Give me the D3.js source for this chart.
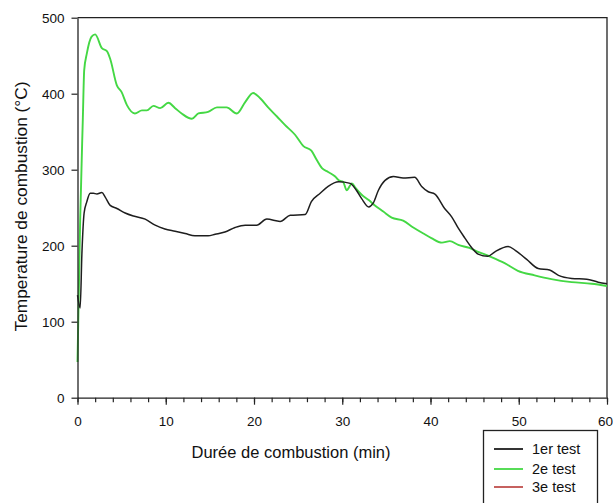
<!DOCTYPE html>
<html>
<head>
<meta charset="utf-8">
<script src="https://cdn.jsdelivr.net/npm/d3@7"></script>
<style>
  html, body { margin: 0; padding: 0; background: #fff; }
  svg { display: block; font-family: "Liberation Sans", Arial, sans-serif; }
</style>
</head>
<body>
<svg id="chart" width="613" height="503"></svg>
<script>
// Combustion temperature over time for successive tests
const testOneTime = [0, 0.3, 0.5, 0.75, 1.06, 1.44, 1.8, 2.2, 2.76, 3.14, 3.7, 4.46, 5.4, 6.34, 7.67, 8.8, 9.9, 11.06, 12.2, 13.3, 14.8, 15.6, 16.7, 17.86, 19.0, 20.3, 21.45, 22.96, 24.1, 25.8, 26.5, 27.5, 28.4, 29.6, 30.9, 31.6, 32.2, 33.0, 33.5, 34.1, 34.85, 35.8, 36.9, 38.2, 39.0, 39.75, 40.5, 41.6, 42.4, 43.15, 43.9, 44.7, 45.4, 46.5, 47.3, 48.8, 49.6, 50.9, 52.2, 53.5, 54.5, 56.0, 57.7, 59.0, 60];
const testOneTemp = [135, 118, 190, 243, 258, 269, 269, 268, 270, 264, 253, 249, 243, 239, 235, 227, 222, 219, 216, 213, 213, 215, 218, 224, 227, 227, 235, 232, 240, 241, 258, 269, 278, 284, 282, 273, 262, 251, 256, 273, 286, 291, 289, 290, 278, 271, 268, 249, 238, 223, 210, 197, 189, 186, 192, 199, 194, 182, 170, 168, 161, 157, 156, 152, 150];

const testTwoTime = [0, 0.3, 0.6, 0.76, 1.06, 1.6, 2.0, 2.76, 3.33, 3.7, 4.46, 5.0, 5.6, 6.5, 7.3, 7.86, 8.6, 9.37, 10.3, 11.06, 11.8, 12.96, 13.7, 14.8, 15.8, 16.9, 18.05, 19.0, 19.9, 20.7, 21.6, 22.6, 23.5, 24.65, 25.6, 26.5, 27.1, 27.7, 28.4, 29.2, 29.6, 30.1, 30.5, 31.1, 31.5, 32.2, 33.0, 33.7, 34.65, 35.6, 36.9, 38.05, 39.2, 40.1, 41.3, 42.2, 43.15, 44.4, 45.4, 46.9, 48.4, 49.9, 51.8, 53.7, 56.0, 58.25, 60];
const testTwoTemp = [47, 233, 365, 431, 453, 475, 478, 460, 456, 446, 411, 402, 385, 374, 378, 378, 384, 381, 388, 381, 374, 367, 374, 376, 382, 382, 374, 389, 401, 394, 382, 370, 359, 346, 331, 325, 313, 302, 297, 291, 286, 284, 273, 282, 276, 267, 260, 253, 245, 237, 233, 224, 216, 210, 204, 206, 201, 197, 192, 185, 177, 167, 161, 156, 152, 150, 147];

// Third test: listed in the legend, no recorded curve
const testThreeTime = [];
const testThreeTemp = [];

const seriesNames = ["1er test", "2e test", "3e test"];
const seriesColors = ["#1e1e1e", "#44d844", "#c0504d"];

const xTicks = [0, 10, 20, 30, 40, 50, 60];
const xMinorTicks = d3.range(0, 61, 2);
const yTicks = [0, 100, 200, 300, 400, 500];

const xTitle = "Durée de combustion (min)";
const yTitle = "Temperature de combustion (°C)";

const series = [
  { name: seriesNames[0], color: seriesColors[0], pts: d3.zip(testOneTime, testOneTemp) },
  { name: seriesNames[1], color: seriesColors[1], pts: d3.zip(testTwoTime, testTwoTemp) },
  { name: seriesNames[2], color: seriesColors[2], pts: d3.zip(testThreeTime, testThreeTemp) }
];

const plot = { left: 77.5, right: 607, top: 17.7, bottom: 397.7 };

const svg = d3.select("#chart");
const x = d3.scaleLinear().domain([0, 60]).range([plot.left, plot.right]);
const y = d3.scaleLinear().domain([0, 500]).range([plot.bottom, plot.top]);

// Frame (top and right edges)
svg.append("path")
  .attr("d", `M${plot.left},${plot.top}H${plot.right}V${plot.bottom}`)
  .attr("fill", "none").attr("stroke", "#222").attr("stroke-width", 1.3);

// Curves
const line = d3.line().x(d => x(d[0])).y(d => y(d[1])).curve(d3.curveMonotoneX);
const curves = svg.append("g").attr("fill", "none").attr("stroke-linejoin", "round");
[series[1], series[0], series[2]].forEach(s => {
  if (!s.pts.length) return;
  curves.append("path").attr("d", line(s.pts))
    .attr("stroke", s.color).attr("stroke-width", s === series[1] ? 1.9 : 1.5);
});

// Minor x ticks
svg.append("g")
  .attr("transform", `translate(0,${plot.bottom})`)
  .call(d3.axisBottom(x).tickValues(xMinorTicks).tickSize(4.5).tickFormat(""))
  .call(g => g.select(".domain").remove())
  .call(g => g.selectAll("line").attr("stroke", "#222").attr("stroke-width", 1.2));

// Bottom axis
svg.append("g")
  .attr("transform", `translate(0,${plot.bottom})`)
  .call(d3.axisBottom(x).tickValues(xTicks).tickSize(7).tickSizeOuter(0).tickPadding(12).tickFormat(d3.format("d")))
  .call(g => g.select(".domain").attr("stroke", "#222").attr("stroke-width", 1.3))
  .call(g => g.selectAll("line").attr("stroke", "#222").attr("stroke-width", 1.2))
  .call(g => g.selectAll("text").attr("font-size", 13.5).attr("fill", "#111")
    .attr("font-family", "'Liberation Sans', Arial, sans-serif"))
  // last label sits against the right edge of the page
  .call(g => g.selectAll(".tick").filter(d => d === 60).select("text").attr("dx", -2));

// Left axis
svg.append("g")
  .attr("transform", `translate(${plot.left},0)`)
  .call(d3.axisLeft(y).tickValues(yTicks).tickSize(6).tickSizeOuter(0).tickPadding(7).tickFormat(d3.format("d")))
  .call(g => g.select(".domain").attr("stroke", "#222").attr("stroke-width", 1.3))
  .call(g => g.selectAll("line").attr("stroke", "#222").attr("stroke-width", 1.2))
  .call(g => g.selectAll("text").attr("font-size", 13.5).attr("fill", "#111")
    .attr("font-family", "'Liberation Sans', Arial, sans-serif"));

// Axis titles
svg.append("text")
  .attr("x", 291).attr("y", 458)
  .attr("text-anchor", "middle").attr("font-size", 16.5).attr("fill", "#111")
  .text(xTitle);

svg.append("text")
  .attr("transform", "translate(27,206.5) rotate(-90)")
  .attr("text-anchor", "middle").attr("font-size", 17.3).attr("fill", "#111")
  .text(yTitle);

// Legend
const legend = svg.append("g");
legend.append("rect")
  .attr("x", 483.5).attr("y", 430.5).attr("width", 114).attr("height", 80)
  .attr("fill", "#fff").attr("stroke", "#222").attr("stroke-width", 1.3);
const rowY = [449, 469, 487];
series.forEach((s, i) => {
  legend.append("line")
    .attr("x1", 494).attr("x2", 523).attr("y1", rowY[i]).attr("y2", rowY[i])
    .attr("stroke", s.color).attr("stroke-width", 1.8);
  legend.append("text")
    .attr("x", 532).attr("y", rowY[i] + 5)
    .attr("font-size", 14.5).attr("fill", "#111")
    .text(s.name);
});
</script>
</body>
</html>
